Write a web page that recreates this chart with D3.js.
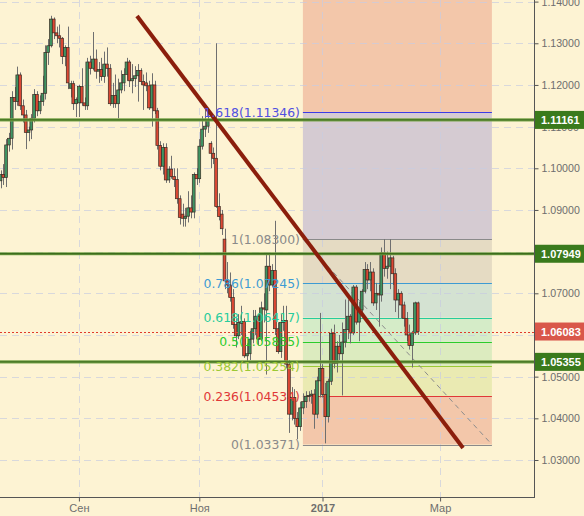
<!DOCTYPE html>
<html>
<head>
<meta charset="UTF-8">
<script src="https://cdn.jsdelivr.net/npm/d3@7/dist/d3.min.js"></script>
<style>
  body { margin: 0; background: #fdf3d3; }
  svg { display: block; }
</style>
</head>
<body>
<script>
  // daily candles, [open, high, low, close], Jul 25 2016 .. Feb 17 2017
  const candles = [
    [1.0970,1.0995,1.0952,1.0985],[1.0985,1.1010,1.0960,1.0978],[1.0978,1.1070,1.0955,1.1056],[1.1056,1.1085,1.1040,1.1072],
    [1.1072,1.1185,1.1045,1.1170],[1.1170,1.1195,1.1140,1.1160],[1.1160,1.1244,1.1150,1.1224],[1.1224,1.1230,1.1140,1.1150],
    [1.1150,1.1165,1.1110,1.1128],[1.1128,1.1140,1.1046,1.1086],[1.1086,1.1100,1.1065,1.1092],[1.1092,1.1130,1.1070,1.1120],
    [1.1120,1.1190,1.1110,1.1177],[1.1177,1.1185,1.1125,1.1138],[1.1138,1.1175,1.1130,1.1160],[1.1160,1.1222,1.1150,1.1180],
    [1.1180,1.1295,1.1165,1.1278],[1.1278,1.1310,1.1248,1.1294],[1.1294,1.1366,1.1290,1.1358],[1.1358,1.1362,1.1310,1.1325],
    [1.1325,1.1340,1.1300,1.1318],[1.1318,1.1345,1.1290,1.1312],[1.1312,1.1315,1.1250,1.1268],[1.1268,1.1295,1.1245,1.1290],
    [1.1290,1.1340,1.1190,1.1205],[1.1192,1.1210,1.1170,1.1203],[1.1203,1.1210,1.1140,1.1155],[1.1155,1.1170,1.1123,1.1165],
    [1.1157,1.1200,1.1123,1.1196],[1.1196,1.1240,1.1150,1.1157],[1.1157,1.1170,1.1140,1.1150],[1.1150,1.1265,1.1140,1.1255],
    [1.1255,1.1270,1.1225,1.1240],[1.1240,1.1327,1.1235,1.1262],[1.1262,1.1285,1.1215,1.1233],[1.1233,1.1255,1.1205,1.1237],
    [1.1237,1.1265,1.1210,1.1220],[1.1220,1.1280,1.1205,1.1250],[1.1250,1.1290,1.1220,1.1240],[1.1240,1.1250,1.1150,1.1155],
    [1.1155,1.1205,1.1145,1.1175],[1.1175,1.1225,1.1145,1.1155],[1.1155,1.1215,1.1120,1.1188],[1.1188,1.1235,1.1180,1.1205],
    [1.1205,1.1240,1.1185,1.1225],[1.1225,1.1265,1.1210,1.1255],[1.1255,1.1260,1.1195,1.1210],[1.1210,1.1250,1.1180,1.1215],
    [1.1215,1.1245,1.1195,1.1222],[1.1222,1.1250,1.1160,1.1235],[1.1235,1.1240,1.1200,1.1208],[1.1208,1.1225,1.1140,1.1200],
    [1.1205,1.1230,1.1185,1.1198],[1.1198,1.1210,1.1140,1.1145],[1.1145,1.1228,1.1100,1.1200],[1.1200,1.1210,1.1130,1.1138],
    [1.1138,1.1145,1.1045,1.1055],[1.1055,1.1065,1.0995,1.1005],[1.1005,1.1060,1.0985,1.1050],[1.1050,1.1060,1.0965,1.0972],
    [1.0972,1.1005,1.0965,1.0998],[1.0998,1.1030,1.0975,1.0980],[1.0980,1.1000,1.0955,1.0973],[1.0973,1.1000,1.0915,1.0927],
    [1.0927,1.0935,1.0865,1.0882],[1.0890,1.0915,1.0860,1.0880],[1.0880,1.0905,1.0860,1.0885],[1.0885,1.0945,1.0870,1.0905],
    [1.0905,1.0935,1.0880,1.0895],[1.0895,1.0990,1.0880,1.0985],[1.0985,1.1000,1.0960,1.0975],[1.0975,1.1070,1.0965,1.1053],
    [1.1053,1.1125,1.1045,1.1094],[1.1094,1.1140,1.1075,1.1101],[1.1101,1.1145,1.1085,1.1116],[1.1060,1.1065,1.1000,1.1036],
    [1.1036,1.1050,1.1010,1.1024],[1.1024,1.1300,1.0905,1.0908],[1.0908,1.0940,1.0875,1.0884],[1.0890,1.0900,1.0840,1.0855],
    [1.0830,1.0855,1.0710,1.0730],[1.0730,1.0775,1.0700,1.0720],[1.0720,1.0750,1.0680,1.0690],[1.0690,1.0710,1.0615,1.0625],
    [1.0625,1.0640,1.0570,1.0598],[1.0598,1.0650,1.0590,1.0630],[1.0628,1.0670,1.0600,1.0632],[1.0632,1.0640,1.0545,1.0550],
    [1.0550,1.0580,1.0520,1.0555],[1.0555,1.0610,1.0540,1.0590],[1.0590,1.0660,1.0580,1.0615],[1.0615,1.0660,1.0600,1.0645],
    [1.0645,1.0650,1.0575,1.0590],[1.0590,1.0680,1.0585,1.0665],[1.0665,1.0700,1.0630,1.0662],[1.0660,1.0795,1.0505,1.0765],
    [1.0765,1.0795,1.0705,1.0720],[1.0720,1.0770,1.0715,1.0755],[1.0755,1.0874,1.0600,1.0615],[1.0615,1.0630,1.0555,1.0560],
    [1.0560,1.0650,1.0545,1.0630],[1.0630,1.0670,1.0610,1.0635],[1.0635,1.0670,1.0520,1.0530],[1.0530,1.0540,1.0365,1.0410],
    [1.0410,1.0475,1.0395,1.0450],[1.0450,1.0470,1.0385,1.0400],[1.0400,1.0415,1.0350,1.0380],[1.0380,1.0440,1.0370,1.0425],
    [1.0425,1.0460,1.0410,1.0440],[1.0440,1.0465,1.0425,1.0453],[1.0453,1.0465,1.0440,1.0455],[1.0455,1.0468,1.0435,1.0458],
    [1.0458,1.0470,1.0375,1.0410],[1.0410,1.0500,1.0400,1.0490],[1.0490,1.0653,1.0450,1.0520],[1.0520,1.0530,1.0450,1.0457],
    [1.0457,1.0485,1.0340,1.0404],[1.0404,1.0495,1.0390,1.0489],[1.0489,1.0615,1.0480,1.0604],[1.0604,1.0625,1.0520,1.0532],
    [1.0532,1.0585,1.0510,1.0573],[1.0573,1.0600,1.0540,1.0555],[1.0555,1.0630,1.0455,1.0583],[1.0583,1.0685,1.0570,1.0613],
    [1.0613,1.0685,1.0590,1.0645],[1.0645,1.0650,1.0580,1.0605],[1.0605,1.0720,1.0600,1.0715],[1.0715,1.0720,1.0625,1.0631],
    [1.0631,1.0680,1.0585,1.0660],[1.0660,1.0710,1.0655,1.0705],[1.0705,1.0775,1.0700,1.0757],[1.0757,1.0770,1.0710,1.0732],
    [1.0732,1.0775,1.0705,1.0751],[1.0751,1.0760,1.0670,1.0677],[1.0677,1.0725,1.0660,1.0700],[1.0700,1.0720,1.0620,1.0696],
    [1.0696,1.0810,1.0680,1.0797],[1.0797,1.0830,1.0740,1.0760],[1.0760,1.0800,1.0735,1.0765],[1.0765,1.0830,1.0710,1.0785],
    [1.0785,1.0790,1.0720,1.0747],[1.0747,1.0760,1.0655,1.0684],[1.0684,1.0710,1.0640,1.0700],[1.0700,1.0705,1.0640,1.0672],
    [1.0672,1.0680,1.0620,1.0640],[1.0640,1.0655,1.0585,1.0600],[1.0600,1.0625,1.0565,1.0575],[1.0575,1.0610,1.0522,1.0605],
    [1.0605,1.0680,1.0600,1.0677],[1.0677,1.0680,1.0600,1.0608]
  ];

  const priceTicks = [1.03, 1.04, 1.05, 1.06, 1.07, 1.08, 1.09, 1.10, 1.11, 1.12, 1.13, 1.14];
  const monthIdx = [28, 71, 115, 157];
  const monthLabels = ["Сен", "Ноя", "2017", "Мар"];

  // fibonacci grid: ratio, price, colour
  const fibRatios = ["1.618", "1", "0.786", "0.618", "0.5", "0.382", "0.236", "0"];
  const fibPrices = [1.11346, 1.08300, 1.07245, 1.06417, 1.05835, 1.05254, 1.04534, 1.03371];
  const fibColors = ["#3b3be6", "#8a8a8a", "#3d9bd3", "#27cc9c", "#2ccc2c", "#9cc934", "#e03838", "#8a8a8a"];
  const fibBands = ["#d5cbd2", "#e5dbc3", "#d4e2d2", "#d5ecc8", "#dcebbf", "#eaeab2", "#f3c7aa"];
  const fibTopBand = "#f3c7aa";
  const fibFrom = 108, fibTo = 175.5;

  const levels = [1.11161, 1.07949, 1.05355];
  const lastPrice = 1.06083;

  // trend line and fib diagonal, [index, price]
  const trend = [[48.75, 1.13655], [165.2, 1.03288]];
  const fibDiag = [[108, 1.08300], [175.5, 1.03371]];

  const w = 584, h = 516;
  const right = 534, bottom = 497;

  const x = d3.scaleLinear().domain([0, 149]).range([0.5, 417.7]);
  const y = d3.scaleLinear().domain([1.03, 1.14]).range([460, 1.6]);

  const svg = d3.select("body").append("svg")
    .attr("width", w).attr("height", h);

  svg.append("rect").attr("width", w).attr("height", h).attr("fill", "#fdf3d3");

  // fib bands
  const x0 = x(fibFrom), x1 = x(fibTo);
  svg.append("rect")
    .attr("x", x0).attr("y", 0)
    .attr("width", x1 - x0).attr("height", y(fibPrices[0]))
    .attr("fill", fibTopBand);
  svg.selectAll("rect.band")
    .data(fibBands)
    .enter().append("rect")
    .attr("class", "band")
    .attr("x", x0)
    .attr("y", (d, i) => y(fibPrices[i]))
    .attr("width", x1 - x0)
    .attr("height", (d, i) => y(fibPrices[i + 1]) - y(fibPrices[i]))
    .attr("fill", d => d);

  // grid
  svg.selectAll("line.hgrid")
    .data(priceTicks)
    .enter().append("line")
    .attr("x1", 0).attr("x2", right)
    .attr("y1", d => Math.round(y(d)) + 0.5).attr("y2", d => Math.round(y(d)) + 0.5)
    .attr("stroke", "#c8cce0").attr("stroke-opacity", 0.7)
    .attr("stroke-dasharray", "7,5");
  svg.selectAll("line.vgrid")
    .data(monthIdx)
    .enter().append("line")
    .attr("x1", d => Math.round(x(d)) + 0.5).attr("x2", d => Math.round(x(d)) + 0.5)
    .attr("y1", 0).attr("y2", bottom)
    .attr("stroke", "#c8cce0").attr("stroke-opacity", 0.7)
    .attr("stroke-dasharray", "7,5");

  // fib lines
  svg.selectAll("line.fib")
    .data(fibPrices)
    .enter().append("line")
    .attr("x1", x0).attr("x2", x1)
    .attr("y1", d => Math.round(y(d)) + 0.5).attr("y2", d => Math.round(y(d)) + 0.5)
    .attr("stroke", (d, i) => fibColors[i])
    .attr("stroke-width", 1.2);

  svg.append("line")
    .attr("x1", x(fibDiag[0][0])).attr("y1", y(fibDiag[0][1]))
    .attr("x2", x(fibDiag[1][0])).attr("y2", y(fibDiag[1][1]))
    .attr("stroke", "#8c8c8c")
    .attr("stroke-dasharray", "5,4");

  // candles
  const g = svg.append("g");
  g.selectAll("line.wick")
    .data(candles)
    .enter().append("line")
    .attr("x1", (d, i) => Math.round(x(i)) + 0.5)
    .attr("x2", (d, i) => Math.round(x(i)) + 0.5)
    .attr("y1", d => y(d[1])).attr("y2", d => y(d[2]))
    .attr("stroke", "#6f6f6f");
  g.selectAll("rect.body")
    .data(candles)
    .enter().append("rect")
    .attr("x", (d, i) => x(i) - 1.4)
    .attr("y", d => y(Math.max(d[0], d[3])))
    .attr("width", 2.8)
    .attr("height", d => Math.max(1, Math.abs(y(d[0]) - y(d[3]))))
    .attr("fill", d => d[3] >= d[0] ? "#3f9463" : "#dc4834")
    .attr("stroke", "#3a2a22")
    .attr("stroke-width", 0.7);

  // support / resistance levels
  levels.forEach(v => {
    const yy = y(v);
    svg.append("line").attr("x1", 0).attr("x2", right).attr("y1", yy).attr("y2", yy)
      .attr("stroke", "#7ba64c").attr("stroke-width", 3.2);
    svg.append("line").attr("x1", 0).attr("x2", right).attr("y1", yy).attr("y2", yy)
      .attr("stroke", "#3c6c1c").attr("stroke-width", 1.4);
  });

  svg.append("line")
    .attr("x1", 0).attr("x2", right)
    .attr("y1", Math.round(y(lastPrice)) + 0.5).attr("y2", Math.round(y(lastPrice)) + 0.5)
    .attr("stroke", "#e03a2c")
    .attr("stroke-dasharray", "2,2");

  // trend line
  svg.append("line")
    .attr("x1", x(trend[0][0])).attr("y1", y(trend[0][1]))
    .attr("x2", x(trend[1][0])).attr("y2", y(trend[1][1]))
    .attr("stroke", "#8b1e0c")
    .attr("stroke-width", 4);

  // fib labels
  svg.selectAll("text.fib")
    .data(fibPrices)
    .enter().append("text")
    .attr("x", x0 - 3)
    .attr("y", d => y(d) + 4.5)
    .attr("text-anchor", "end")
    .attr("font-family", "DejaVu Sans, Verdana, sans-serif")
    .attr("font-size", "12.4px")
    .attr("fill", (d, i) => i === 0 ? "#5050e0" : fibColors[i])
    .text((d, i) => fibRatios[i] + "(" + d.toFixed(5) + ")");

  // axes
  const yAxis = d3.axisRight(y).tickValues(priceTicks).tickFormat(d3.format(".5f")).tickSize(4);
  const ya = svg.append("g")
    .attr("transform", "translate(" + (right + 0.5) + ",0)")
    .call(yAxis);
  ya.select(".domain").remove();
  ya.selectAll("line").attr("stroke", "#555");
  ya.selectAll("text")
    .attr("fill", "#6e6e6e")
    .attr("font-family", "Liberation Sans, Arial, sans-serif")
    .attr("font-size", "10.6px");

  const xAxis = d3.axisBottom(x).tickValues(monthIdx).tickFormat((d, i) => monthLabels[i]).tickSize(4);
  const xa = svg.append("g")
    .attr("transform", "translate(0," + (bottom + 0.5) + ")")
    .call(xAxis);
  xa.select(".domain").remove();
  xa.selectAll("line").attr("stroke", "#555");
  xa.selectAll("text")
    .attr("fill", "#6e6e6e")
    .attr("font-family", "Liberation Sans, Arial, sans-serif")
    .attr("font-size", "11px")
    .attr("font-weight", d => d === 115 ? "bold" : "normal");

  svg.append("line").attr("x1", right + 0.5).attr("x2", right + 0.5).attr("y1", 0).attr("y2", bottom + 1)
    .attr("stroke", "#555");
  svg.append("line").attr("x1", 0).attr("x2", right + 1).attr("y1", bottom + 0.5).attr("y2", bottom + 0.5)
    .attr("stroke", "#555");

  // price boxes on the axis
  const boxes = levels.map(v => ({ v: v, c: "#3a7a1c" })).concat([{ v: lastPrice, c: "#d9574a" }]);
  boxes.forEach(b => {
    const yy = y(b.v);
    svg.append("rect")
      .attr("x", right + 1).attr("y", yy - 9)
      .attr("width", w - right - 1).attr("height", 18)
      .attr("fill", b.c);
    svg.append("text")
      .attr("x", right + 7).attr("y", yy + 4)
      .attr("fill", "#fff")
      .attr("font-family", "Liberation Sans, Arial, sans-serif")
      .attr("font-size", "11px")
      .attr("font-weight", "bold")
      .text(b.v.toFixed(5));
  });
</script>
</body>
</html>
